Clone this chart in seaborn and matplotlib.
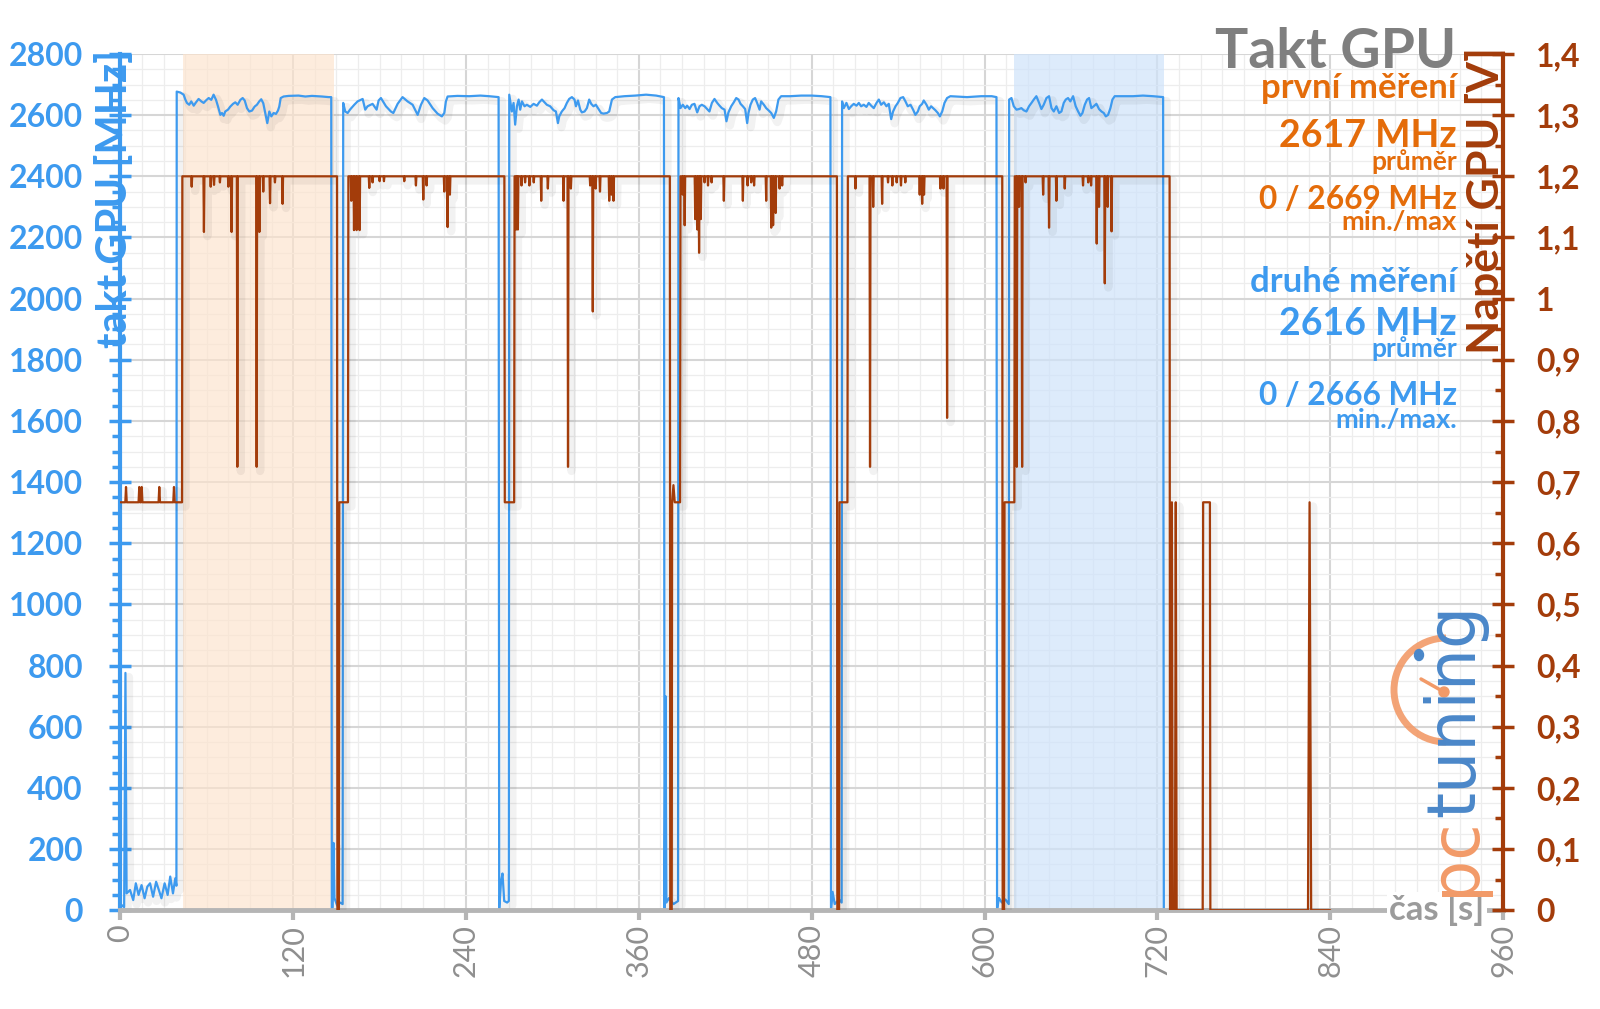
import numpy as np
import pandas as pd
import matplotlib
matplotlib.use("Agg")
import matplotlib.pyplot as plt
import seaborn as sns
from matplotlib.patches import Arc, Ellipse
from matplotlib.lines import Line2D
from matplotlib.ticker import MultipleLocator
import matplotlib.patheffects as pe

# ---------------- data ----------------
clock_t = [0, 2.6, 3.5, 4.3, 6.7, 8.9, 10.7, 12.6, 14.7, 16.8, 18.7, 20.6, 22.7, 24.8, 26.7, 28.5, 30.7, 32.8, 34.6, 36.5, 38.1, 38.9,
           39.1, 41.6, 43.9, 45.1, 46.2, 47.8, 49.2, 50.9, 52.5, 54.3, 56.2, 57.8, 59.4, 61.3, 63.1, 64.7, 66.4, 67.8, 69.4, 70.5, 71.7, 72.8, 74.7, 76.3, 78.2, 79.8, 81.4, 83.3, 84.9, 86.3, 87.9, 89.5, 91.4, 93.2, 94.8, 96.4, 97.8, 99.2, 100.6, 102.0, 103.4, 104.8, 106.4, 108.0, 109.4, 110.3, 111.3, 113.3, 116.8, 123.7, 128.4, 133.0, 139.9, 144.6, 146.4,
           146.8, 147.4, 148.0, 148.6, 150.5, 152.5, 154.3,
           154.7, 156.1, 157.8, 159.4, 162.4, 164.7, 168.2, 170.0, 171.6, 175.1, 177.9, 179.3, 180.9, 184.4, 187.8, 189.5, 192.5, 195.9, 199.4, 202.9, 206.4, 208.7, 211.0, 213.3, 216.8, 220.2, 223.2, 224.9, 226.0, 227.2, 234.0, 242.2, 250.0, 256.0, 262.6,
           263.0, 264.3, 265.3, 266.5, 268.5, 269.7,
           270.0, 271.8, 273.0, 274.1, 275.3, 276.5, 277.6, 278.8, 280.6, 282.2, 284.6, 286.9, 289.2, 290.8, 292.7, 294.5, 296.1, 298.4, 300.8, 302.4, 303.8, 304.7, 306.5, 308.4, 310.0, 311.6, 313.5, 315.3, 316.3, 317.7, 319.3, 320.4, 322.3, 323.9, 325.5, 326.9, 328.5, 330.1, 332.0, 333.8, 335.5, 337.8, 339.4, 341.3, 343.6, 350.0, 357.5, 365.0, 372.0, 377.4,
           377.8, 378.5, 379.1, 381.0, 384.0, 387.2,
           387.5, 388.9, 390.5, 392.2, 393.5, 395.2, 396.8, 398.6, 400.5, 402.1, 403.7, 405.6, 407.4, 409.0, 410.7, 412.5, 414.4, 416.0, 417.6, 419.5, 420.8, 422.2, 424.1, 425.9, 427.6, 429.2, 430.6, 432.2, 433.8, 435.2, 436.1, 437.5, 439.1, 440.7, 442.1, 443.8, 444.9, 446.8, 448.4, 450.0, 451.9, 453.7, 455.3, 456.9, 458.8, 465.0, 472.7, 480.0, 487.0, 493.0,
           493.4, 494.5, 496.0, 499.0, 500.8,
           501.1, 502.3, 504.1, 505.8, 507.4, 509.2, 511.1, 512.7, 514.3, 516.2, 518.0, 519.6, 521.3, 523.1, 525.0, 526.6, 528.2, 530.1, 531.9, 533.5, 535.2, 536.5, 538.2, 539.8, 541.6, 543.5, 545.1, 546.7, 548.6, 550.4, 552.0, 553.7, 555.0, 556.7, 557.8, 559.7, 561.3, 562.9, 564.3, 565.9, 567.6, 569.0, 570.6, 572.2, 574.0, 576.3, 587.9, 597.7, 605.0, 608.3,
           608.7, 610.0, 612.0, 614.5, 616.8,
           617.1, 618.7, 620.3, 622.2, 624.0, 625.6, 627.2, 629.1, 630.9, 632.6, 634.2, 636.0, 637.9, 639.5, 641.1, 643.0, 644.8, 646.5, 648.1, 649.9, 651.8, 653.4, 655.0, 656.4, 658.0, 659.6, 661.5, 663.3, 665.0, 666.6, 668.0, 669.6, 671.2, 672.6, 674.2, 675.8, 677.7, 679.5, 681.2, 682.8, 684.2, 685.8, 687.4, 688.8, 690.4, 703.1, 710.0, 717.0, 724.0,
           724.5, 840.0]
clock_mhz = [20, 10, 776, 55, 66, 33, 88, 50, 82, 39, 77, 88, 44, 93, 66, 39, 88, 50, 110, 55, 104, 80,
             2677, 2674, 2667, 2651, 2640, 2634, 2645, 2631, 2642, 2653, 2645, 2640, 2648, 2656, 2650, 2667, 2650, 2628, 2601, 2607, 2598, 2612, 2618, 2628, 2637, 2642, 2634, 2650, 2656, 2648, 2623, 2612, 2615, 2628, 2634, 2645, 2652, 2639, 2607, 2574, 2612, 2596, 2607, 2604, 2615, 2628, 2656, 2661, 2663, 2664, 2661, 2663, 2661, 2659, 2659,
             0, 10, 220, 40, 15, 25, 20,
             2640, 2612, 2607, 2618, 2634, 2645, 2653, 2618, 2629, 2637, 2618, 2648, 2656, 2629, 2612, 2607, 2637, 2659, 2645, 2634, 2601, 2634, 2656, 2648, 2623, 2605, 2596, 2607, 2645, 2661, 2663, 2662, 2664, 2662, 2659,
             0, 95, 120, 30, 25, 30,
             2667, 2612, 2640, 2569, 2629, 2651, 2618, 2645, 2629, 2634, 2627, 2637, 2631, 2642, 2651, 2642, 2634, 2629, 2616, 2612, 2574, 2596, 2612, 2623, 2640, 2653, 2659, 2651, 2629, 2648, 2618, 2609, 2612, 2623, 2651, 2637, 2629, 2634, 2620, 2607, 2605, 2607, 2612, 2651, 2659, 2662, 2664, 2667, 2664, 2659,
             0, 700, 25, 40, 20, 30,
             2656, 2623, 2634, 2623, 2631, 2620, 2634, 2637, 2609, 2629, 2634, 2629, 2620, 2612, 2640, 2653, 2640, 2631, 2623, 2618, 2580, 2609, 2629, 2642, 2656, 2651, 2637, 2629, 2620, 2574, 2607, 2634, 2651, 2656, 2640, 2618, 2645, 2634, 2623, 2616, 2607, 2591, 2612, 2651, 2662, 2662, 2664, 2664, 2662, 2659,
             0, 60, 20, 35, 25,
             2645, 2623, 2640, 2620, 2629, 2637, 2631, 2640, 2629, 2634, 2627, 2640, 2631, 2623, 2640, 2651, 2634, 2642, 2629, 2637, 2587, 2612, 2629, 2640, 2656, 2659, 2645, 2629, 2634, 2618, 2601, 2612, 2629, 2637, 2648, 2634, 2618, 2629, 2623, 2616, 2607, 2596, 2612, 2640, 2656, 2662, 2659, 2662, 2662, 2659,
             0, 40, 25, 35, 20,
             2651, 2656, 2629, 2618, 2620, 2623, 2616, 2612, 2629, 2640, 2651, 2662, 2640, 2620, 2634, 2656, 2662, 2623, 2612, 2629, 2607, 2612, 2640, 2651, 2656, 2645, 2662, 2629, 2612, 2598, 2607, 2634, 2651, 2656, 2623, 2629, 2637, 2620, 2612, 2607, 2596, 2601, 2623, 2651, 2662, 2662, 2664, 2662, 2659,
             0, 0]

# voltage: steps between load phases
volt_t = [0, 3.4, 3.9, 4.4, 12.6, 13.1, 13.6, 14.3, 14.8, 15.3, 26.5, 27.0, 27.5, 36.7, 37.2, 37.7, 42.8, 43.0,
          150.4, 150.7, 151.7, 152.0, 158.0, 158.3,
          266.6, 266.9, 273.4, 273.7,
          381.5, 381.8, 382.8, 383.1, 384.0, 384.9, 388.6, 388.9,
          497.5, 497.8, 499.0, 499.3, 504.8, 505.1,
          612.3, 612.6, 613.6, 613.9, 620.7, 621.0,
          728.5, 728.8, 729.5, 730.1, 730.7, 732.2, 732.8, 733.4, 751.5, 751.8, 756.5, 756.8, 824.6, 825.7, 826.8, 840.0]
volt_v = [0.667, 0.667, 0.692, 0.667, 0.667, 0.692, 0.667, 0.667, 0.692, 0.667, 0.667, 0.692, 0.667, 0.667, 0.692, 0.667, 0.667, 1.2,
          1.2, 0, 0, 0.667, 0.667, 1.2,
          1.2, 0.667, 0.667, 1.2,
          1.2, 0, 0, 0.667, 0.695, 0.667, 0.667, 1.2,
          1.2, 0, 0, 0.667, 0.667, 1.2,
          1.2, 0, 0, 0.667, 0.667, 1.2,
          1.2, 0, 0, 0.667, 0, 0, 0.667, 0, 0, 0.667, 0.667, 0, 0, 0.667, 0, 0]
volt_plateau = 1.2
# short voltage dips during load (time, minimum)
dip_t = [49.5, 58.0, 62.7, 65.0, 69.1, 75.0, 77.2, 81.2, 94.6, 96.5, 99.2, 103.9, 107.3, 112.6,
         160.3, 162.2, 164.0, 166.1, 172.8, 175.1, 180.0, 183.0, 197.1, 205.2, 210.3, 212.6, 224.9, 227.2, 228.8,
         274.8, 276.0, 278.5, 281.0, 284.0, 287.0, 292.2, 296.8, 307.7, 310.8, 312.8, 326.2, 328.0, 330.0, 333.0, 339.4, 341.0, 342.4,
         390.5, 391.8, 399.1, 400.6, 401.8, 403.0, 405.6, 408.0, 410.5, 419.0, 432.2, 435.5, 438.0, 440.0, 448.4, 451.9, 453.2, 455.0, 457.7, 459.5,
         510.4, 520.5, 522.7, 528.9, 533.0, 536.0, 539.0, 542.0, 545.0, 555.0, 556.7, 558.0, 569.4, 571.5, 574.0,
         622.4, 624.0, 626.1, 628.5, 640.7, 644.8, 649.9, 655.7, 668.4, 672.0, 674.0, 677.9, 679.5, 683.5, 685.5, 688.2]
dip_v = [1.183, 1.109, 1.183, 1.186, 1.19, 1.183, 1.109, 0.725, 0.725, 1.109, 1.175, 1.156, 1.19, 1.155,
         1.16, 1.112, 1.112, 1.112, 1.181, 1.19, 1.192, 1.192, 1.192, 1.185, 1.162, 1.185, 1.175, 1.117, 1.17,
         1.113, 1.113, 1.185, 1.19, 1.185, 1.19, 1.16, 1.18, 1.16, 0.725, 1.18, 1.185, 0.979, 1.18, 1.175, 1.16, 1.17, 1.16,
         1.17, 1.12, 1.13, 1.113, 1.075, 1.13, 1.19, 1.185, 1.19, 1.16, 1.16, 1.185, 1.19, 1.185, 1.16, 1.116, 1.12, 1.14, 1.18, 1.185,
         1.18, 0.725, 1.15, 1.155, 1.19, 1.185, 1.19, 1.185, 1.19, 1.17, 1.155, 1.17, 1.18, 1.18, 0.805,
         0.725, 1.15, 0.725, 1.19, 1.17, 1.116, 1.16, 1.18, 1.185, 1.19, 1.185, 1.09, 1.15, 1.025, 1.15, 1.11]

first_run_span = [43.5, 148.5]
second_run_span = [620.5, 724.6]

x_ticks = [0, 120, 240, 360, 480, 600, 720, 840, 960]
mhz_ticks = [0, 200, 400, 600, 800, 1000, 1200, 1400, 1600, 1800, 2000, 2200, 2400, 2600, 2800]
volt_ticks = [0, 0.1, 0.2, 0.3, 0.4, 0.5, 0.6, 0.7, 0.8, 0.9, 1.0, 1.1, 1.2, 1.3, 1.4]
volt_tick_labels = ["0", "0,1", "0,2", "0,3", "0,4", "0,5", "0,6", "0,7", "0,8", "0,9", "1", "1,1", "1,2", "1,3", "1,4"]

title_text = "Takt GPU"
first_label = ["první měření", "2617 MHz", "průměr", "0 / 2669 MHz", "min./max"]
second_label = ["druhé měření", "2616 MHz", "průměr", "0 / 2666 MHz", "min./max."]

# ---------------- build frames ----------------
clock_df = pd.DataFrame({"t": clock_t, "mhz": clock_mhz})

vt = list(volt_t)
vv = list(volt_v)
half_w = 0.35
for t, v in zip(dip_t, dip_v):
    vt += [t - half_w, t, t + half_w]
    vv += [volt_plateau, v, volt_plateau]
order = np.argsort(np.array(vt), kind="stable")
volt_df = pd.DataFrame({"t": np.array(vt)[order], "v": np.array(vv)[order]})

# ---------------- style ----------------
sns.set_style("white")
plt.rcParams["font.family"] = ["Lato", "DejaVu Sans"]

BLUE = "#3d9aef"
BROWN = "#a33c0a"
ORANGE = "#e46c0a"
GRAY_AX = "#b5b5b5"
W, H = 1600, 1009

fig = plt.figure(figsize=(16, 10.09), dpi=100)
ax = fig.add_axes([120.4 / W, 1 - 910.2 / H, (1503 - 120.4) / W, (910.2 - 54) / H])
ax2 = ax.twinx()

ax.axvspan(*first_run_span, color="#fde3cc", alpha=0.65, lw=0, zorder=0.6)
ax.axvspan(*second_run_span, color="#cfe3fa", alpha=0.7, lw=0, zorder=0.6)

sns.lineplot(data=clock_df, x="t", y="mhz", ax=ax, color=BLUE, linewidth=1.6,
             estimator=None, sort=False, legend=False)
sns.lineplot(data=volt_df, x="t", y="v", ax=ax2, color=BROWN, linewidth=1.6,
             estimator=None, sort=False, legend=False)

shadow = [pe.SimpleLineShadow(offset=(2.5, -3), shadow_color="black", alpha=0.05, linewidth=6), pe.Normal()]
for ln in ax.lines + ax2.lines:
    ln.set_path_effects(shadow)

ax.set_xlim(0, 960)
ax.set_ylim(0, 2800)
ax2.set_ylim(0, 1.4)
ax.set_xlabel("")
ax.set_ylabel("")
ax2.set_ylabel("")

# grid
ax.set_axisbelow(True)
ax.xaxis.set_minor_locator(MultipleLocator(15))
ax.yaxis.set_minor_locator(MultipleLocator(50))
ax2.yaxis.set_minor_locator(MultipleLocator(0.05))
ax.grid(True, which="major", color="#d6d6d6", lw=1.5)
ax.grid(True, which="minor", color="#ededed", lw=0.9)

# spines
for s in ["top", "right"]:
    ax.spines[s].set_visible(False)
ax.spines["left"].set_color(BLUE)
ax.spines["left"].set_linewidth(3)
ax.spines["bottom"].set_color(GRAY_AX)
ax.spines["bottom"].set_linewidth(3.5)
for s in ["top", "left", "bottom"]:
    ax2.spines[s].set_visible(False)
ax2.spines["right"].set_color(BROWN)
ax2.spines["right"].set_linewidth(3)

# ticks
ax.set_xticks(x_ticks)
ax.set_xticklabels([str(v) for v in x_ticks])
ax.set_yticks(mhz_ticks)
ax.set_yticklabels([str(v) for v in mhz_ticks], fontweight="bold")
ax2.set_yticks(volt_ticks)
ax2.set_yticklabels(volt_tick_labels, fontweight="bold")

ax.tick_params(axis="y", which="major", left=True, direction="inout", length=16, width=2.5,
               color=BLUE, labelcolor=BLUE, labelsize=23, pad=19)
ax.tick_params(axis="y", which="minor", left=True, direction="out", length=6, width=2.5, color=BLUE)
ax.tick_params(axis="x", which="major", bottom=True, direction="out", length=7, width=3,
               color=GRAY_AX, labelcolor="#8f8f8f", labelsize=22, pad=3, labelrotation=90)
ax.tick_params(axis="x", which="minor", bottom=False, length=0)
ax2.tick_params(axis="y", which="major", right=True, direction="inout", length=16, width=2.5,
                color=BROWN, labelcolor=BROWN, labelsize=23, pad=16)
ax2.tick_params(axis="y", which="minor", right=True, direction="in", length=6, width=2.5, color=BROWN)

# axis titles
fig.text(115 / W, 1 - 199 / H, "takt GPU [MHz]", rotation=90, ha="center", va="center",
         fontsize=30, fontweight="bold", color=BLUE)
fig.text(1486 / W, 1 - 201 / H, "Napětí GPU [V]", rotation=90, ha="center", va="center",
         fontsize=32, fontweight="bold", color=BROWN)
fig.text(1437 / W, 1 - 910 / H, "čas [s]", ha="center", va="center", fontsize=25,
         fontweight="bold", color="#9b9b9b",
         bbox=dict(facecolor="white", edgecolor="none", pad=1.5))

# legend-like annotation
xr = 1457 / W
fig.text(1456 / W, 1 - 68 / H, title_text, ha="right", va="baseline", fontsize=40,
         fontweight="bold", color="#7f7f7f")
sizes = [25, 27, 19, 22.8, 19.7]
base1 = [98, 147, 170, 209, 230]
base2 = [292, 335, 357, 405, 428]
for txt, fs, b in zip(first_label, sizes, base1):
    fig.text(xr, 1 - b / H, txt, ha="right", va="baseline", fontsize=fs, fontweight="bold", color=ORANGE)
for txt, fs, b in zip(second_label, sizes, base2):
    fig.text(xr, 1 - b / H, txt, ha="right", va="baseline", fontsize=fs, fontweight="bold", color=BLUE)

# watermark logo
LOGO_OR = "#f29a68"
LOGO_BL = "#4a87c9"
fig.add_artist(Arc((1446 / W, 1 - 690 / H), 104 / W, 104 / H, theta1=90, theta2=270,
                   transform=fig.transFigure, color=LOGO_OR, lw=5, alpha=0.9))
fig.add_artist(Line2D([1421 / W, 1444 / W], [1 - 679 / H, 1 - 692 / H], transform=fig.transFigure,
                      color=LOGO_OR, lw=2.5))
fig.add_artist(Ellipse((1444 / W, 1 - 692 / H), 10 / W, 10 / H, transform=fig.transFigure, color=LOGO_OR))
fig.add_artist(Ellipse((1419 / W, 1 - 655 / H), 9 / W, 11 / H, angle=0, transform=fig.transFigure, color=LOGO_BL))
t_pc = fig.text(1474 / W, 1 - 896 / H, "pc", rotation=90, rotation_mode="anchor", ha="left",
                va="baseline", fontsize=48, color=LOGO_OR, family="DejaVu Sans")
fig.canvas.draw()
bb = t_pc.get_window_extent()
fig.text(1474 / W, bb.y1 / fig.bbox.height, "tuning", rotation=90, rotation_mode="anchor", ha="left",
         va="baseline", fontsize=48, color=LOGO_BL, family="DejaVu Sans")

fig.savefig("out.png", dpi=100)
